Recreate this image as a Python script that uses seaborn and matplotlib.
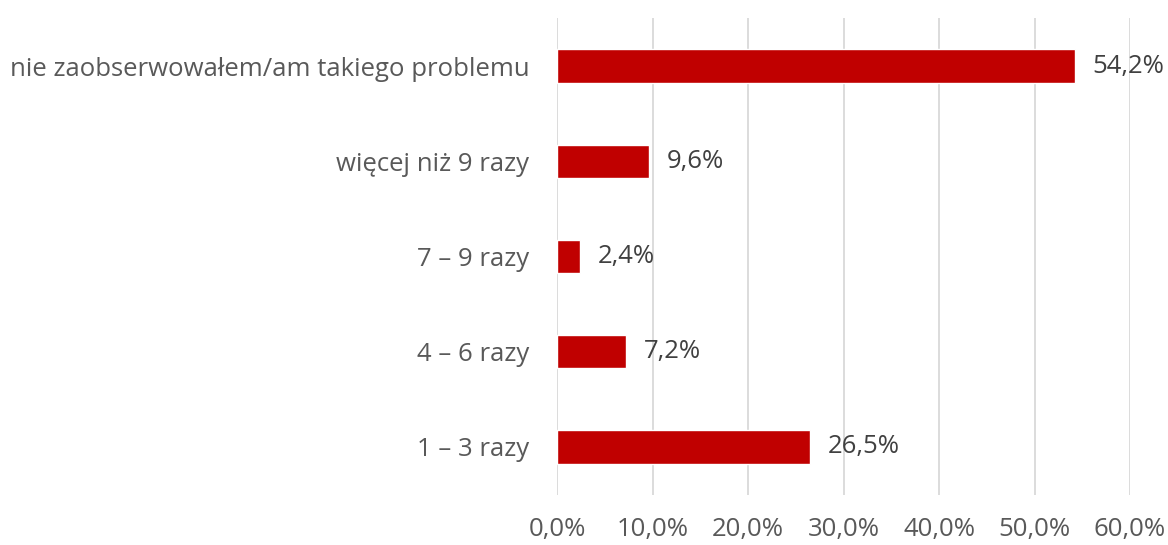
import matplotlib
matplotlib.use("Agg")
import matplotlib.pyplot as plt
import seaborn as sns
import pandas as pd
from matplotlib.ticker import FuncFormatter

categories = [
    "nie zaobserwowałem/am takiego problemu",
    "więcej niż 9 razy",
    "7 – 9 razy",
    "4 – 6 razy",
    "1 – 3 razy",
]
values = [54.2, 9.6, 2.4, 7.2, 26.5]
x_ticks = [0, 10, 20, 30, 40, 50, 60]

df = pd.DataFrame({"kategoria": categories, "procent": values})

sns.set_theme(style="white")
plt.rcParams["font.family"] = ["Open Sans", "DejaVu Sans"]

tick_color = "#595959"
value_color = "#404040"
fig = plt.figure(figsize=(11.68, 5.45), dpi=100)
ax = fig.add_axes([0.4769, 0.0925, 0.4906, 0.8737])

sns.barplot(data=df, x="procent", y="kategoria", color="#C00000",
            saturation=1, width=0.35, ax=ax, zorder=3)

ax.set_xlim(0, 60)
ax.set_xticks(x_ticks)
ax.xaxis.set_major_formatter(FuncFormatter(lambda v, p: f"{v:.1f}%".replace(".", ",")))
ax.grid(axis="x", color="#D9D9D9", linewidth=1.3, zorder=0)
ax.grid(axis="y", visible=False)
for s in ax.spines.values():
    s.set_visible(False)
ax.set_xlabel("")
ax.set_ylabel("")
ax.tick_params(axis="both", length=0, labelsize=18.5, colors=tick_color)
ax.tick_params(axis="x", pad=16)
ax.tick_params(axis="y", pad=20)

for i, v in enumerate(values):
    ax.text(v + 1.9, i, f"{v:.1f}%".replace(".", ","), va="center", ha="left",
            fontsize=18.5, color=value_color)

fig.savefig("out.png", dpi=100)
